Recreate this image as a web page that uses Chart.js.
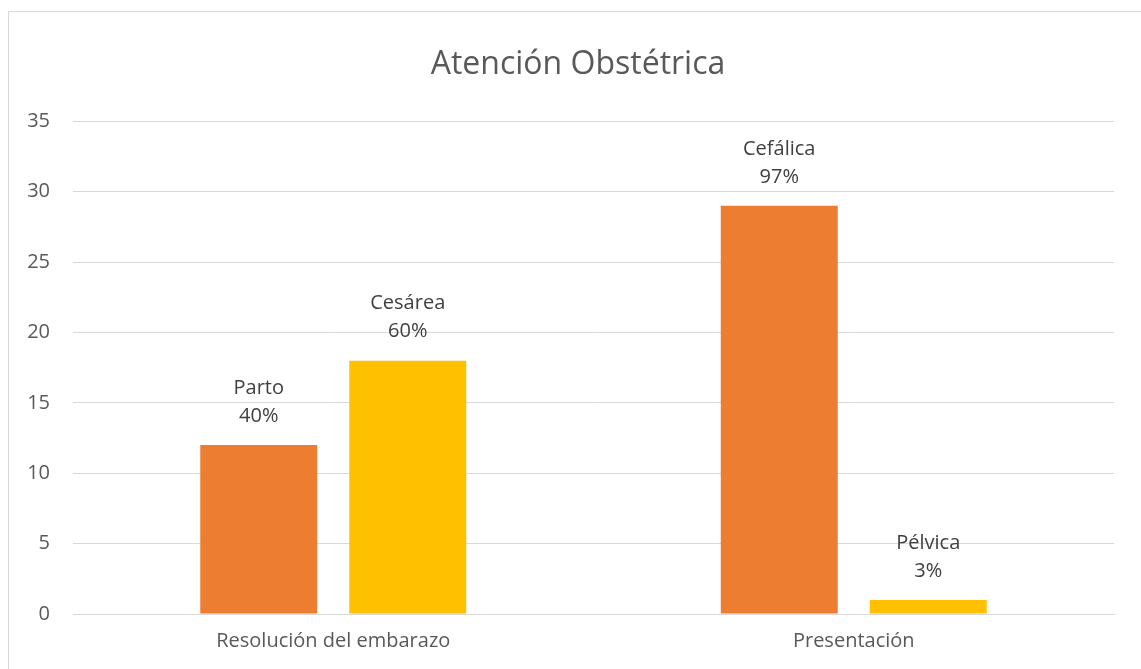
<!DOCTYPE html>
<html>
<head>
<meta charset="utf-8">
<script src="https://cdn.jsdelivr.net/npm/chart.js@4"></script>
<style>
  body { margin: 0; background: #fff; overflow: hidden; }
  #frame { position: absolute; left: 8px; top: 11px; width: 1200px; height: 700px; border: 1px solid #d9d9d9; }
  #wrap { position: absolute; left: 0; top: 0; width: 1156px; height: 669px; }
</style>
</head>
<body>
<div id="frame"></div>
<div id="wrap"><canvas id="myChart"></canvas></div>
<script>
// data
const categories = ["Resolución del embarazo", "Presentación"];
const firstValues = [12, 29];
const firstNames = ["Parto", "Cefálica"];
const firstPct = ["40%", "97%"];
const secondValues = [18, 1];
const secondNames = ["Cesárea", "Pélvica"];
const secondPct = ["60%", "3%"];
const yMax = 35;
const yStep = 5;

const fontFamily = "'Open Sans', 'Noto Sans', sans-serif";

// two-line label above every bar
const barLabels = {
  id: "barLabels",
  afterDatasetsDraw(chart) {
    const ctx = chart.ctx;
    ctx.save();
    ctx.font = "20px " + fontFamily;
    ctx.fillStyle = "#404040";
    ctx.textAlign = "center";
    ctx.textBaseline = "middle";
    chart.data.datasets.forEach((ds, i) => {
      const meta = chart.getDatasetMeta(i);
      meta.data.forEach((bar, j) => {
        ctx.fillText(ds.names[j], bar.x, bar.y - 57);
        ctx.fillText(ds.pct[j], bar.x, bar.y - 29);
      });
    });
    ctx.restore();
  },
};

const myChart = document.getElementById("myChart").getContext("2d");

new Chart(myChart, {
  type: "bar",
  data: {
    labels: categories,
    datasets: [
      {
        data: firstValues,
        names: firstNames,
        pct: firstPct,
        backgroundColor: "#ED7D31",
        categoryPercentage: 0.5725,
        barPercentage: 0.785,
      },
      {
        data: secondValues,
        names: secondNames,
        pct: secondPct,
        backgroundColor: "#FFC000",
        categoryPercentage: 0.5725,
        barPercentage: 0.785,
      },
    ],
  },
  options: {
    responsive: true,
    maintainAspectRatio: false,
    animation: false,
    layout: { padding: 0 },
    plugins: {
      legend: { display: false },
      tooltip: { enabled: false },
      title: {
        display: true,
        text: "Atención Obstétrica",
        color: "#595959",
        font: { family: fontFamily, size: 32, weight: "normal" },
        padding: { top: 46, bottom: 37 },
      },
    },
    scales: {
      x: {
        grid: { display: false, drawTicks: false },
        border: { color: "#d9d9d9" },
        ticks: {
          color: "#595959",
          font: { family: fontFamily, size: 20 },
          padding: 15,
        },
        afterFit(scale) {
          scale.height = 55;
        },
      },
      y: {
        min: 0,
        max: yMax,
        grid: { color: "#d9d9d9", drawTicks: false },
        border: { display: false },
        ticks: {
          stepSize: yStep,
          color: "#595959",
          font: { family: fontFamily, size: 20 },
          padding: 23,
        },
        afterFit(scale) {
          scale.width = 73;
        },
      },
      // empty right-hand spacer so the title sits where the original does
      spacer: {
        type: "linear",
        position: "right",
        grid: { display: false, drawTicks: false },
        border: { display: false },
        ticks: { display: false },
        afterFit(scale) {
          scale.width = 42;
        },
      },
    },
  },
  plugins: [barLabels],
});
</script>
</body>
</html>
